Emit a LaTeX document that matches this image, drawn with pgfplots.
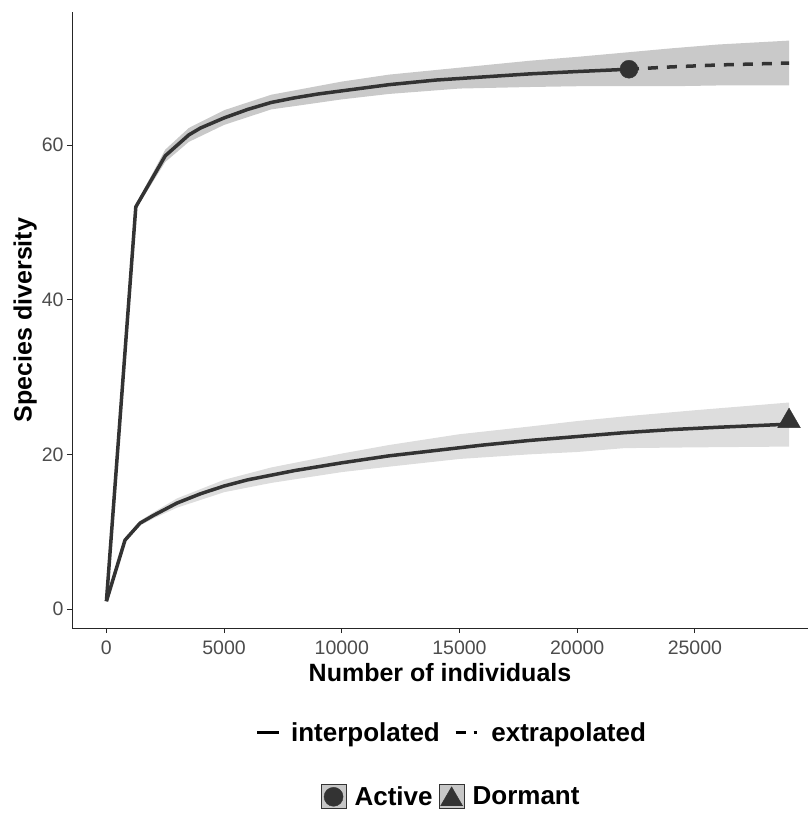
\documentclass[border=0pt]{standalone}
\usepackage{pgfplots}
\pgfplotsset{compat=1.18}
\usepackage{fontspec}
\setmainfont{Liberation Sans}
\definecolor{ln}{HTML}{333333}
\definecolor{bandA}{HTML}{C9C9C9}
\definecolor{bandD}{HTML}{DDDDDD}
\begin{document}
\begin{tikzpicture}
\path (-72pt,-186pt) rectangle (738pt,628pt);
\begin{axis}[
  scale only axis, width=736pt, height=616pt,
  xmin=-1461, xmax=29805, ymin=-2.46, ymax=77.2,
  axis lines=left, axis line style={-, line width=0.9pt, black!85},
  tick align=outside, major tick length=5pt,
  tick style={line width=0.9pt, black!85},
  xtick={0,5000,10000,15000,20000,25000},
  ytick={0,20,40,60},
  scaled x ticks=false,
  /pgf/number format/set thousands separator={},
  /pgf/number format/assume math mode=true,
  tick label style={font=\fontsize{19.5}{19.5}\selectfont, text=black!70},
  xticklabel style={yshift=-4pt},
  xlabel={\textbf{Number of individuals}},
  ylabel={\textbf{Species diversity}},
  label style={font=\fontsize{25}{25}\selectfont},
  xlabel style={yshift=-2pt},
  ylabel style={yshift=-2pt},
  clip=false,
  legend style={at={(0.516,-0.170)}, anchor=center, draw=none, fill=none,
    font=\fontsize{26}{26}\selectfont\bfseries, legend columns=2,
    /tikz/every odd column/.append style={column sep=8pt},
    /tikz/every even column/.append style={column sep=12pt}},
  legend cell align=left,
]
% Active band
\addplot[fill=bandA, draw=none, forget plot] coordinates {
(1,1) (1250,52.3) (2500,59.4) (3500,62.2) (5000,64.5) (7000,66.5) (10000,68.2) (12000,69.1) (15000,70.0) (18000,70.9) (20000,71.4) (22200,72.0) (24000,72.5) (26000,73.0) (29000,73.5)
(29000,67.7) (26000,67.7) (24000,67.6) (22200,67.6) (20000,67.6) (18000,67.5) (15000,67.3) (12000,66.6) (10000,65.9) (7000,64.6) (5000,62.6) (3500,60.4) (2500,57.8) (1250,51.7) (1,1)
};
% Dormant band
\addplot[fill=bandD, draw=none, forget plot] coordinates {
(1,1) (790,9.1) (1430,11.4) (2000,12.5) (3000,14.3) (5000,16.7) (7000,18.3) (10000,20.1) (12000,21.2) (15000,22.6) (18000,23.6) (20000,24.3) (22000,24.9) (25000,25.7) (29000,26.7)
(29000,21.0) (25000,20.9) (22000,20.8) (20000,20.3) (18000,20.0) (15000,19.4) (12000,18.4) (10000,17.7) (7000,16.3) (5000,15.1) (3000,13.1) (2000,11.7) (1430,10.8) (790,8.7) (1,1)
};
% Active interpolated
\addplot[ln, line width=3.5pt, line join=round, forget plot] coordinates {
(1,1) (1250,52) (2500,58.6) (3500,61.3) (4000,62.2) (5000,63.5) (6000,64.6) (7000,65.5) (8000,66.1) (9000,66.6) (10000,67.0) (12000,67.8) (14000,68.4) (16000,68.8) (18000,69.2) (20000,69.5) (22200,69.8)
};
% Active extrapolated
\addplot[ln, line width=3.5pt, dash pattern=on 10pt off 9pt, forget plot] coordinates {
(22200,69.8) (24000,70.1) (26000,70.35) (29000,70.6)
};
% Dormant interpolated
\addplot[ln, line width=3.5pt, line join=round, forget plot] coordinates {
(1,1) (790,8.9) (1430,11.1) (2000,12.1) (3000,13.7) (4000,14.9) (5000,15.9) (6000,16.7) (7000,17.3) (8000,17.9) (9000,18.4) (10000,18.9) (12000,19.8) (14000,20.5) (16000,21.2) (18000,21.8) (20000,22.3) (22000,22.8) (24000,23.2) (26000,23.5) (29000,23.9)
};
\addplot[only marks, mark=*, mark size=9pt, mark options={fill=ln, draw=ln}, forget plot] coordinates {(22200,69.8)};
\addplot[only marks, mark=triangle*, mark size=13pt, mark options={fill=ln, draw=ln}, forget plot] coordinates {(29000,24.3)};
\addlegendimage{legend image code/.code={\draw[black, line width=3.5pt] (0pt,0pt) -- (22pt,0pt);}}
\addlegendentry{interpolated}
\addlegendimage{legend image code/.code={\draw[black, line width=3.5pt, dash pattern=on 10pt off 8pt on 3pt off 8pt] (0pt,0pt) -- (24pt,0pt);}}
\addlegendentry{extrapolated}
\end{axis}
\begin{axis}[
  scale only axis, width=736pt, height=616pt, hide axis,
  xmin=0, xmax=1, ymin=0, ymax=1,
  legend style={at={(0.515,-0.274)}, anchor=center, draw=none, fill=none,
    font=\fontsize{26}{26}\selectfont\bfseries, legend columns=2,
    /tikz/every odd column/.append style={column sep=6pt},
    /tikz/every even column/.append style={column sep=4pt}},
  legend cell align=left,
]
\addlegendimage{legend image code/.code={\draw[draw=black!80, fill=black!22, line width=1pt] (0pt,-12pt) rectangle (25pt,12pt); \fill[ln] (12.5pt,0pt) circle (9.5pt);}}
\addlegendentry{Active}
\addlegendimage{legend image code/.code={\draw[draw=black!80, fill=black!22, line width=1pt] (0pt,-12pt) rectangle (25pt,12pt); \fill[ln] (1.5pt,-9pt) -- (23.5pt,-9pt) -- (12.5pt,10pt) -- cycle;}}
\addlegendentry{Dormant}
\end{axis}
\end{tikzpicture}
\end{document}
